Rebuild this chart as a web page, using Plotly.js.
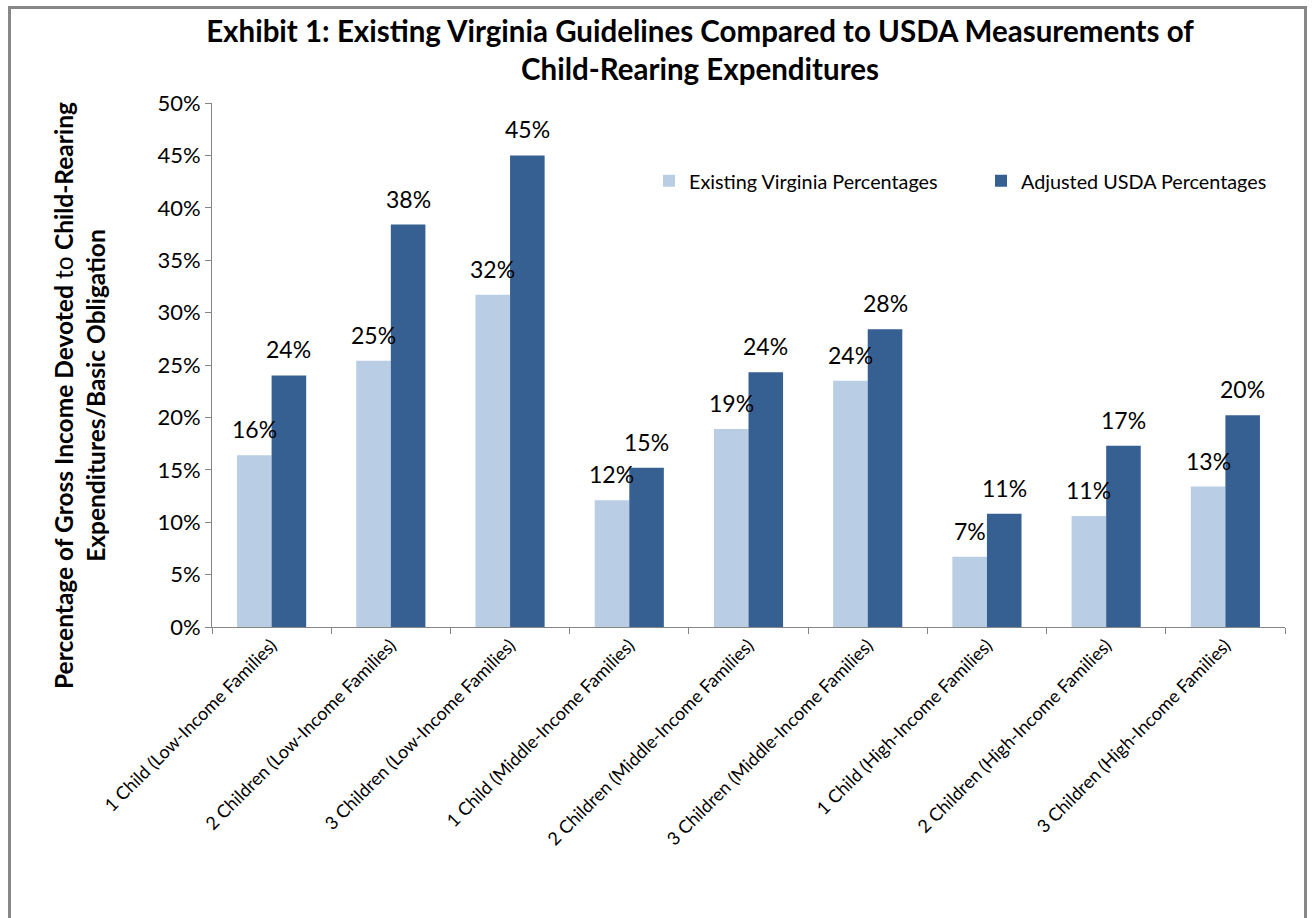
<!DOCTYPE html>
<html>
<head>
<meta charset="utf-8">
<script src="https://cdn.plot.ly/plotly-3.0.1.min.js"></script>
<style>
  html, body { margin: 0; padding: 0; background: #ffffff; }
  #frame { position: absolute; left: 8px; top: 6px; width: 1299px; height: 930px; border: 3px solid #878787; box-sizing: border-box; }
  #chart { position: absolute; left: 0; top: 0; width: 1312px; height: 918px; }
</style>
</head>
<body>
<div id="frame"></div>
<div id="chart"></div>
<script>
const categories = [
  "1 Child (Low-Income Families)",
  "2 Children (Low-Income Families)",
  "3 Children (Low-Income Families)",
  "1 Child (Middle-Income Families)",
  "2 Children (Middle-Income Families)",
  "3 Children (Middle-Income Families)",
  "1 Child (High-Income Families)",
  "2 Children (High-Income Families)",
  "3 Children (High-Income Families)"
];
const virginiaPct = [16.4, 25.4, 31.7, 12.1, 18.9, 23.5, 6.7, 10.6, 13.4];
const usdaPct     = [24.0, 38.4, 45.0, 15.2, 24.3, 28.4, 10.8, 17.3, 20.2];
const seriesNames = ["Existing Virginia Percentages", "Adjusted USDA Percentages"];
const yTickVals = [0, 5, 10, 15, 20, 25, 30, 35, 40, 45, 50];

const FONT = "Lato, 'Open Sans', sans-serif";
const LIGHT = "#B9CDE5";
const DARK = "#376092";
const AXIS = "#868686";

const traces = [
  { type: "bar", name: seriesNames[0], x: categories, y: virginiaPct,
    marker: { color: LIGHT }, hoverinfo: "x+y", legend: "legend" },
  { type: "bar", name: seriesNames[1], x: categories, y: usdaPct,
    marker: { color: DARK }, hoverinfo: "x+y", legend: "legend2" }
];

const halfBar = 17.3;
const annotations = [];
[virginiaPct, usdaPct].forEach((vals, si) => {
  vals.forEach((v, i) => {
    annotations.push({
      x: categories[i], y: v, xref: "x", yref: "y",
      text: Math.round(v) + "%", showarrow: false,
      xshift: si === 0 ? -halfBar : halfBar, yshift: 26,
      yanchor: "middle", xanchor: "center",
      font: { family: FONT, size: 23, color: "#000000" }
    });
  });
});

// y-axis title as paper annotation
annotations.push({
  xref: "paper", yref: "paper",
  x: (79 - 212) / 1073, y: (627 - 396) / 524,
  xanchor: "center", yanchor: "middle",
  textangle: -90, showarrow: false,
  text: "<b>Percentage of Gross Income Devoted</b> to <b>Child-Rearing</b><br><b>Expenditures/Basic Obligation</b>",
  font: { family: FONT, size: 24.5, color: "#000000" }
});

const legendBase = {
  orientation: "h", xanchor: "left",
  y: (627 - 181) / 524, yanchor: "middle",
  font: { family: FONT, size: 19.8, color: "#000000" },
  bgcolor: "rgba(0,0,0,0)"
};

const layout = {
  width: 1312, height: 918,
  paper_bgcolor: "rgba(0,0,0,0)", plot_bgcolor: "rgba(0,0,0,0)",
  margin: { l: 212, r: 27, t: 103, b: 291 },
  font: { family: FONT, color: "#000000" },
  title: {
    text: "<b>Exhibit 1: Existing Virginia Guidelines Compared to USDA Measurements of<br>Child-Rearing Expenditures</b>",
    x: 700 / 1312, xanchor: "center", xref: "container",
    y: 1 - 42 / 918, yanchor: "middle", yref: "container",
    font: { family: FONT, size: 29.5, color: "#000000" }
  },
  barmode: "group", bargap: 0.42, bargroupgap: 0,
  showlegend: true,
  legend: Object.assign({}, legendBase, { x: (649 - 212) / 1073 }),
  legend2: Object.assign({}, legendBase, { x: (981 - 212) / 1073 }),
  xaxis: {
    type: "category", tickangle: -45, tickson: "boundaries",
    ticks: "outside", ticklen: 6, tickcolor: AXIS,
    showline: true, linecolor: AXIS, linewidth: 1,
    showgrid: false, zeroline: false, automargin: false,
    tickfont: { family: FONT, size: 18, color: "#000000" }
  },
  yaxis: {
    range: [0, 50], tickvals: yTickVals, ticktext: yTickVals.map(v => v + "%"),
    ticks: "outside", ticklen: 6, tickcolor: AXIS,
    showline: true, linecolor: AXIS, linewidth: 1,
    showgrid: false, zeroline: false, automargin: false,
    tickfont: { family: FONT, size: 22, color: "#000000" }
  },
  annotations: annotations
};

Plotly.newPlot("chart", traces, layout, { displayModeBar: false, responsive: false });
</script>
</body>
</html>
